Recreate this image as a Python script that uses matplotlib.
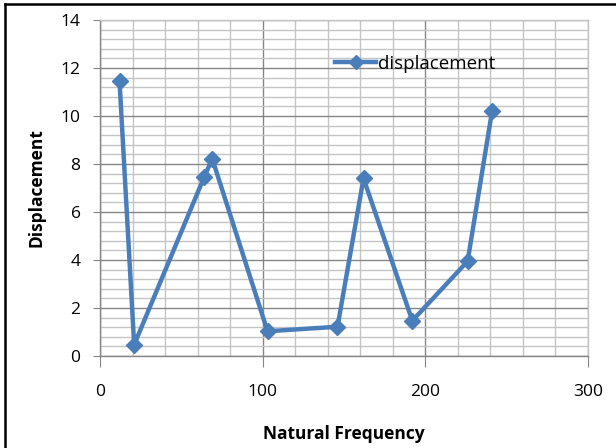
import numpy as np
import matplotlib.pyplot as plt
from matplotlib.lines import Line2D

# natural frequency vs displacement
freq = [12, 21, 64, 69, 103, 146, 162, 192, 226, 241]
disp = [11.45, 0.47, 7.45, 8.22, 1.03, 1.22, 7.4, 1.47, 3.95, 10.2]

blue = '#4a7ebb'
plt.rcParams['font.family'] = ['Open Sans', 'DejaVu Sans']

fig = plt.figure(figsize=(6.16, 4.48), dpi=100)
ax = fig.add_axes([100/616, 1 - 356/448, 488/616, 336/448])

ax.plot(freq, disp, color=blue, lw=3.2, marker='D', ms=8, mfc=blue, mec=blue,
        label='displacement', zorder=3, solid_joinstyle='round')

ax.set_xlim(0, 300)
ax.set_ylim(0, 14)
ax.set_xticks([0, 100, 200, 300])
ax.set_yticks(np.arange(0, 15, 2))
ax.set_xticks(np.arange(0, 301, 20), minor=True)
ax.set_yticks(np.arange(0, 14.01, 0.4), minor=True)

ax.grid(which='major', color='#868686', lw=1.0, zorder=0)
ax.grid(which='minor', color='#c4c4c4', lw=1.0, zorder=0)

for s in ['left', 'bottom', 'right', 'top']:
    ax.spines[s].set_color('#868686')
    ax.spines[s].set_linewidth(1.0)
ax.spines['right'].set_color('#c4c4c4')
ax.spines['top'].set_color('#c4c4c4')

ax.tick_params(which='minor', length=0)
ax.tick_params(axis='y', which='major', length=5, color='#868686', pad=9, labelsize=12.5)
ax.tick_params(axis='x', which='major', length=8, color='#868686', pad=12, labelsize=12.5)

ax.set_xlabel('Natural Frequency', fontweight='bold', fontsize=12.5, labelpad=18)
ax.set_ylabel('Displacement', fontweight='bold', fontsize=12.5, labelpad=11)

handle = Line2D([], [], color=blue, lw=3.2, marker='D', ms=7, mfc=blue, mec=blue)
ax.legend([handle], ['displacement'], loc='upper left', bbox_to_anchor=(0.482, 0.897),
          frameon=False, fontsize=13.5, handlelength=2.2, handletextpad=0.1,
          borderaxespad=0, borderpad=0)

# outer frame of the chart area
fig.add_artist(Line2D([4.5/616, 4.5/616], [0, 1 - 4.5/448], color='black', lw=1.8,
                      transform=fig.transFigure))
fig.add_artist(Line2D([4.5/616, 1], [1 - 4.5/448, 1 - 4.5/448], color='black', lw=1.8,
                      transform=fig.transFigure))

fig.savefig('out.png', dpi=100)
